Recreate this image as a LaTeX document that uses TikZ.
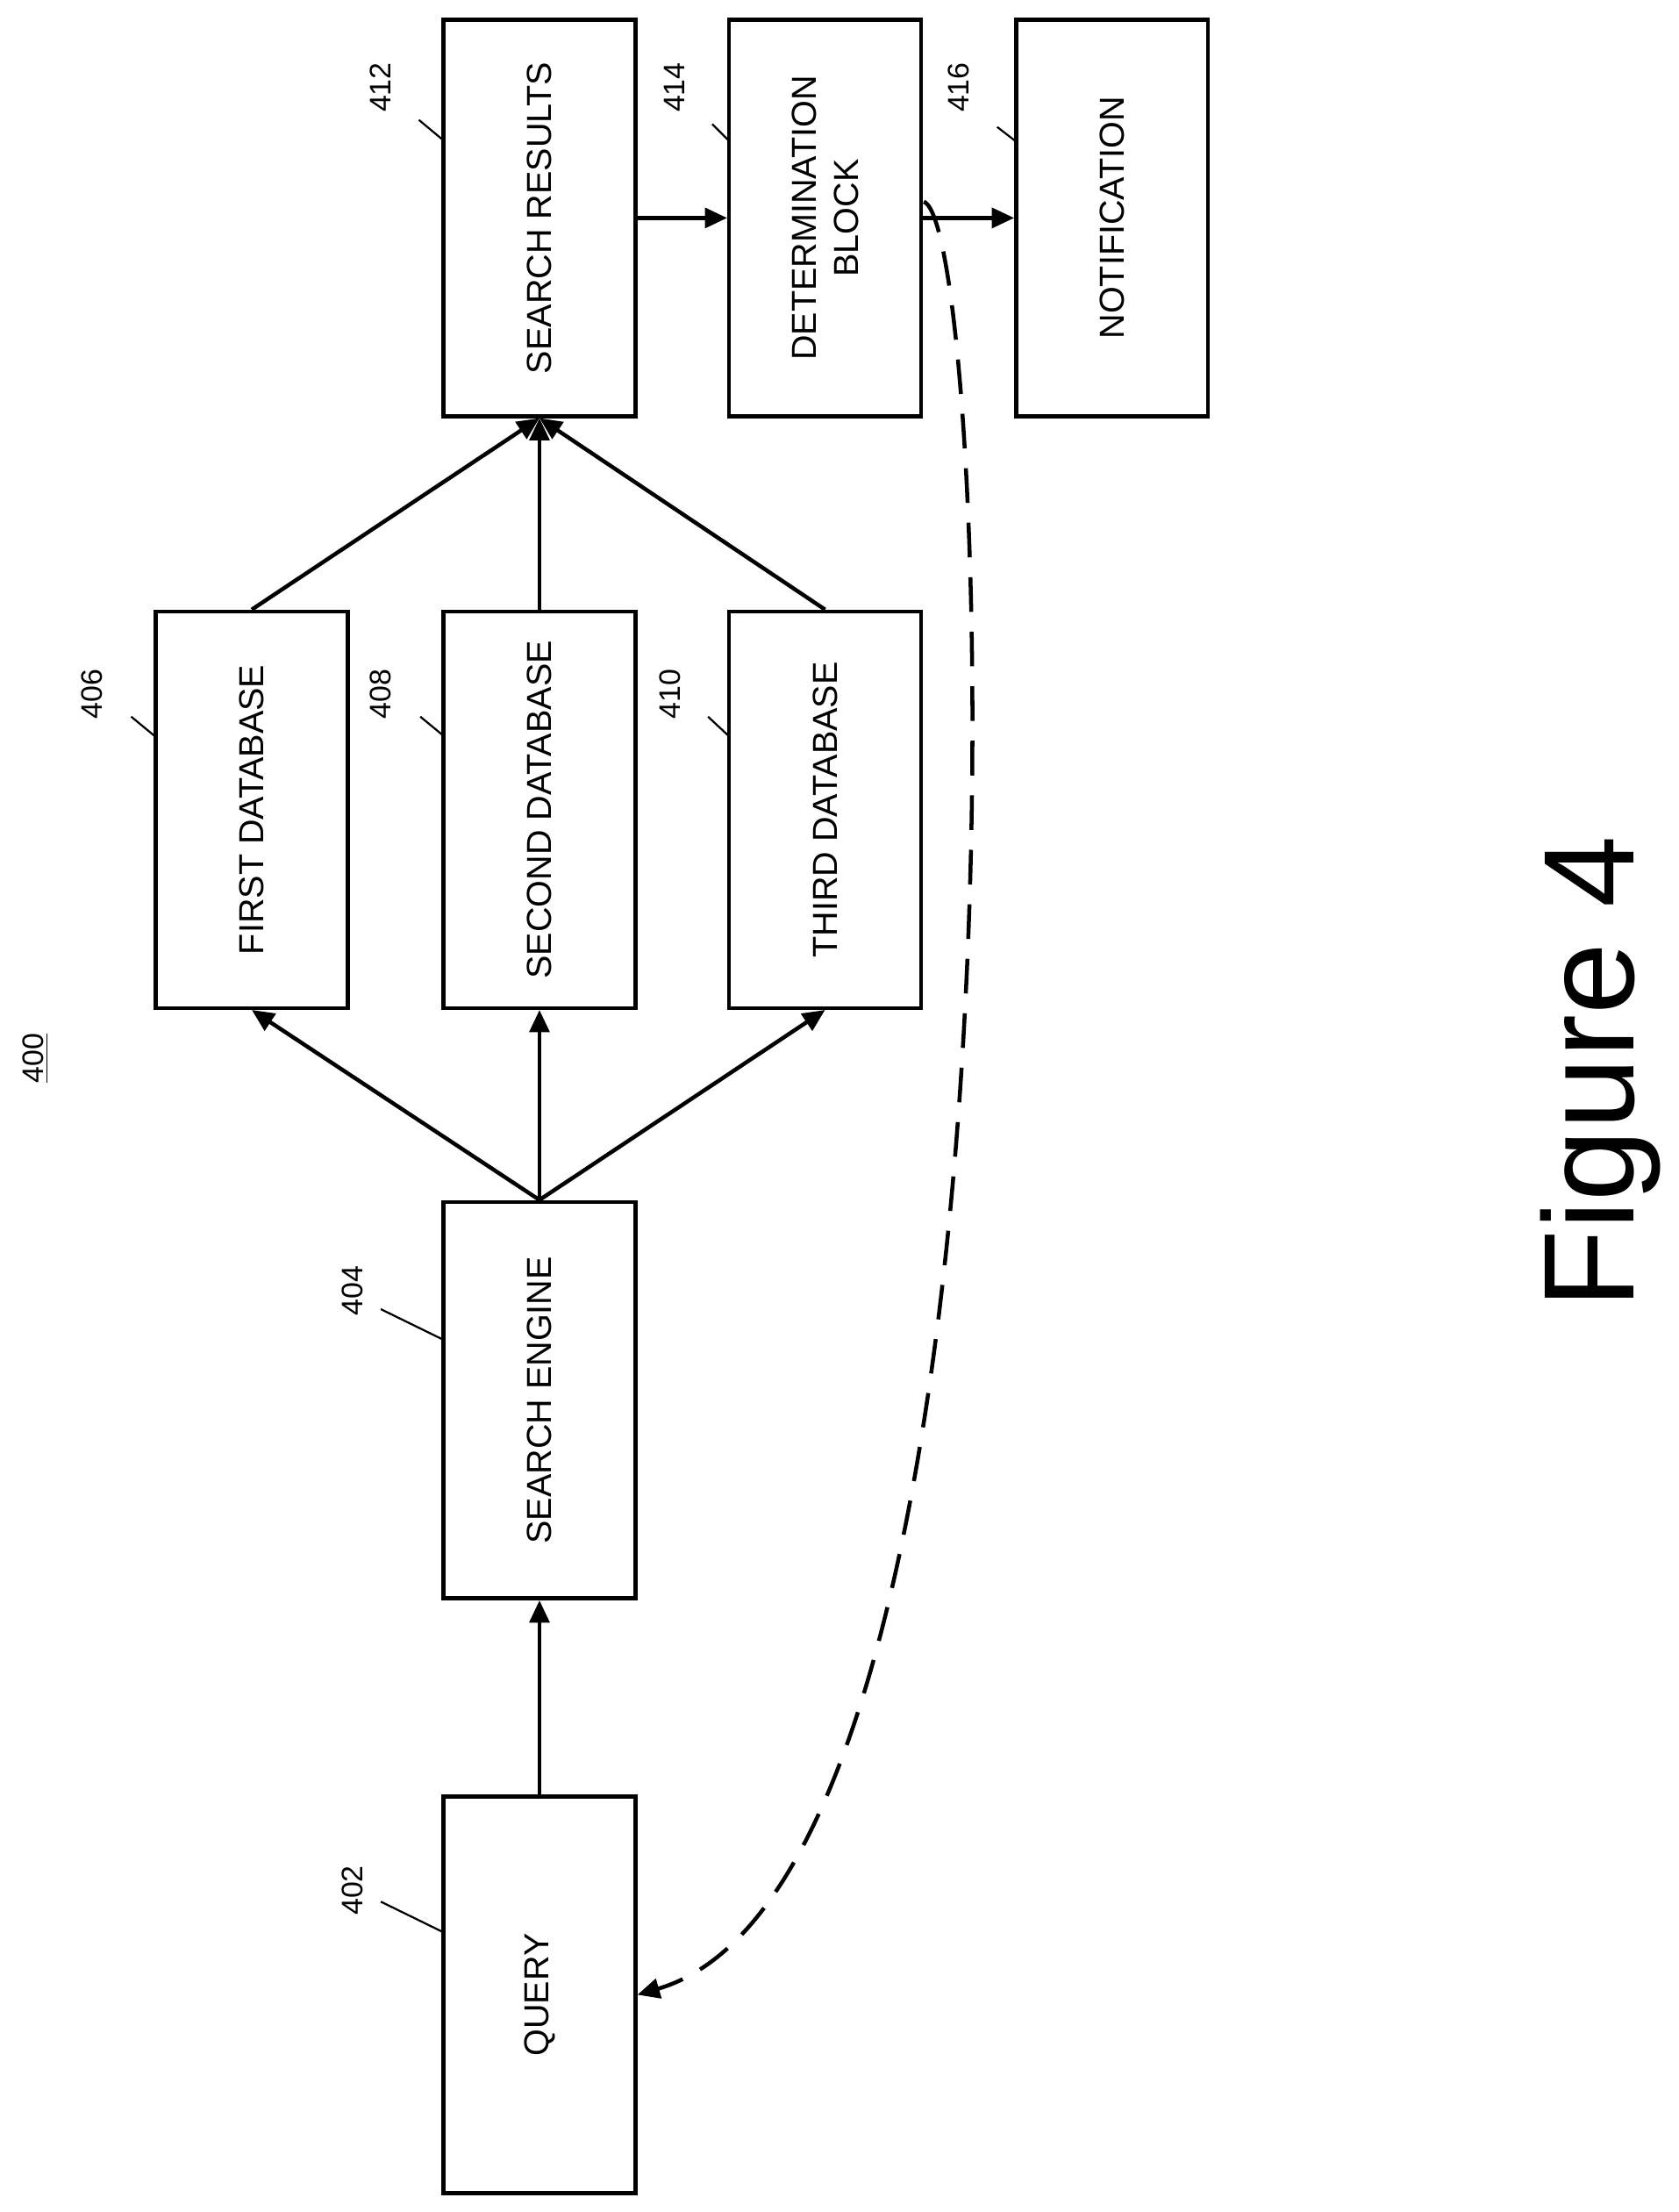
\documentclass[tikz,border=0pt]{standalone}
\usepackage{fontspec}
\setmainfont{Liberation Sans}
\usetikzlibrary{arrows.meta}
\begin{document}
\begin{tikzpicture}[x=0.02cm,y=-0.02cm,
 box/.style={draw,line width=1.6pt,minimum width=281*0.02cm,minimum height=136*0.02cm,rotate=90,font=\fontsize{14}{17}\selectfont,align=center,inner sep=0pt},
 arr/.style={line width=1.6pt,-{Triangle[length=9pt,width=8pt]}},
 lab/.style={rotate=90,font=\fontsize{12}{14}\selectfont},
 lead/.style={line width=0.8pt}]
\useasboundingbox (0,0) rectangle (1190,1568);
\node[box] (q) at (382.5,1414) {QUERY};
\node[box] (se) at (382.5,992.5) {SEARCH ENGINE};
\node[box] (d1) at (178.5,574) {FIRST DATABASE};
\node[box] (d2) at (382.5,574) {SECOND DATABASE};
\node[box] (d3) at (585,574) {THIRD DATABASE};
\node[box] (sr) at (382.5,154.5) {SEARCH RESULTS};
\node[box] (db) at (585,154.5) {DETERMINATION\\BLOCK};
\node[box] (nt) at (788.5,154.5) {NOTIFICATION};
\draw[arr] (q.east) -- (se.west);
\coordinate (sj) at (se.east);
\coordinate (rj) at (sr.west);
\draw[arr] (sj) -- (d1.west);
\draw[arr] (sj) -- (d2.west);
\draw[arr] (sj) -- (d3.west);
\draw[arr] (d1.east) -- (rj);
\draw[arr] (d2.east) -- (rj);
\draw[arr] (d3.east) -- (rj);
\draw[arr] (sr.south) -- (db.north);
\draw[arr] (db.south) -- (nt.north);
\coordinate (cs) at (655,143);
\draw[line width=1.6pt,dash pattern=on 14pt off 8pt,-{Triangle[length=9pt,width=8pt]}] (cs) .. controls (705,160) and (740,1330) .. (q.south);
\node[lab] (l402) at (250,1340) {402};
\node[lab] (l404) at (250,915) {404};
\node[lab] (l406) at (65,492) {406};
\node[lab] (l408) at (270,492) {408};
\node[lab] (l410) at (475,492) {410};
\node[lab] (l412) at (270,62) {412};
\node[lab] (l414) at (478,62) {414};
\node[lab] (l416) at (680,62) {416};
\coordinate (e402) at (315,1370);\draw[lead] (270,1348) -- (e402);
\coordinate (e404) at (315,950);\draw[lead] (270,928) -- (e404);
\coordinate (e406) at (110,522);\draw[lead] (93,508) -- (e406);
\coordinate (e408) at (315,522);\draw[lead] (298,508) -- (e408);
\coordinate (e410) at (517,522);\draw[lead] (502,508) -- (e410);
\coordinate (e412) at (315,100);\draw[lead] (297,85) -- (e412);
\coordinate (e414) at (517,100);\draw[lead] (505,88) -- (e414);
\coordinate (e416) at (720,100);\draw[lead] (707,90) -- (e416);
\node[lab] (l400) at (25,750) {\underline{400}};
\node[rotate=90,font=\fontsize{52}{56}\selectfont] (fig) at (1135,760) {Figure 4};
\end{tikzpicture}
\end{document}
